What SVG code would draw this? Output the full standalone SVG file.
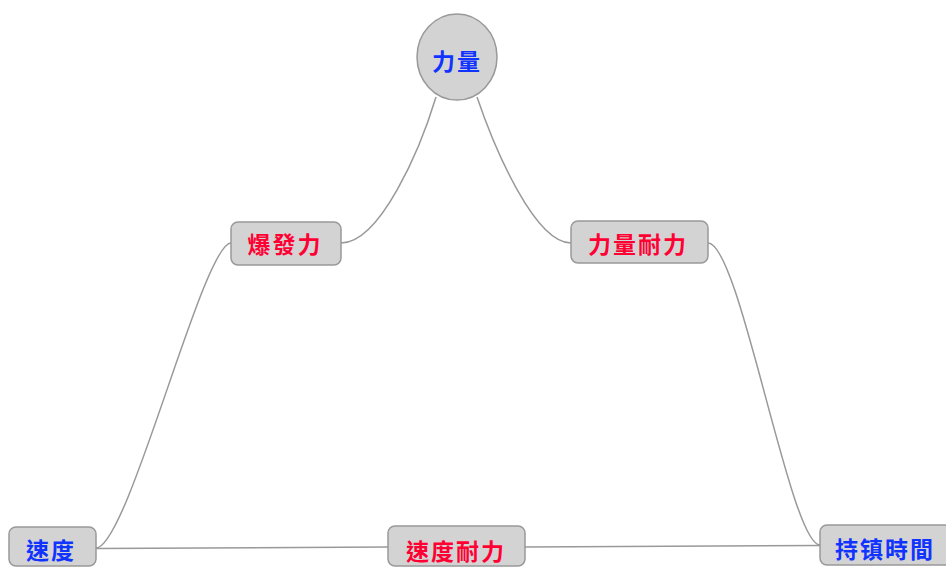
<svg xmlns="http://www.w3.org/2000/svg" width="946" height="567" viewBox="0 0 946 567">
<style>
.edge{fill:none;stroke:#999;stroke-width:1.5}
.box{fill:#d3d3d3;stroke:#999;stroke-width:1.5}
.t{font-family:"Noto Sans CJK TC","Noto Sans CJK SC",sans-serif;font-weight:bold;font-size:23px;letter-spacing:2px;dominant-baseline:central}
.blue{fill:#1133ff}
.red{fill:#ff0033}
</style>
<rect width="946" height="567" fill="#fff"/>
<g id="connectors">
<path class="edge" d="M436,97 C420,150 380,243 341,243"/>
<path class="edge" d="M477,97 C495,150 535,243 571,243"/>
<path class="edge" d="M231,243 C203,243 128,548 96,548"/>
<path class="edge" d="M708,243 C740,243 790,545 820,545"/>
<path class="edge" d="M96,548.5 L388,547"/>
<path class="edge" d="M525,547 L820,545.5"/>
</g>
<g id="n-liliang">
<ellipse class="box" cx="457" cy="57" rx="40" ry="43"/>
<text class="t blue" x="457" y="60" text-anchor="middle">力量</text>
</g>
<g id="n-baofali">
<rect class="box" x="231" y="222" width="110" height="43" rx="7"/>
<text class="t red" x="285" y="243" text-anchor="middle">爆發力</text>
</g>
<g id="n-liliangnaili">
<rect class="box" x="571" y="221" width="137" height="42" rx="7"/>
<text class="t red" x="638" y="243" text-anchor="middle">力量耐力</text>
</g>
<g id="n-sudu">
<rect class="box" x="9" y="527" width="87" height="39" rx="7"/>
<text class="t blue" x="51" y="549" text-anchor="middle">速度</text>
</g>
<g id="n-sudunaili">
<rect class="box" x="388" y="526" width="137" height="40" rx="7"/>
<text class="t red" x="456" y="550" text-anchor="middle">速度耐力</text>
</g>
<g id="n-chixushijian">
<rect class="box" x="820" y="525" width="140" height="40" rx="7"/>
<text class="t blue" x="835" y="548">持镇時間</text>
</g>
</svg>
